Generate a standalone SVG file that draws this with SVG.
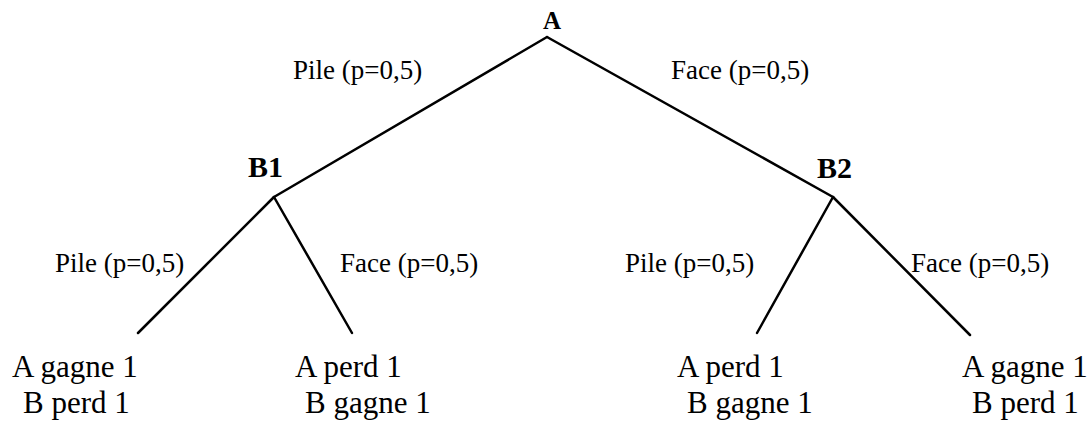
<svg xmlns="http://www.w3.org/2000/svg" width="1092" height="421" viewBox="0 0 1092 421">
<style>
text{font-family:"Liberation Serif","Times New Roman",serif;fill:#000}
.node{font-weight:bold}
.edge{font-size:27px}
.leaf{font-size:31px}
line{stroke:#000;stroke-width:2.5;stroke-linecap:round}
</style>
<rect width="1092" height="421" fill="#fff"/>
<g id="connectors">
<line x1="547" y1="37" x2="274" y2="197"/>
<line x1="547" y1="37" x2="833" y2="197"/>
<line x1="274" y1="197" x2="138" y2="333"/>
<line x1="274" y1="197" x2="352" y2="333"/>
<line x1="833" y1="197" x2="757" y2="333"/>
<line x1="833" y1="197" x2="970" y2="335"/>
</g>
<g id="edge-labels">
<text class="edge" x="293" y="79">Pile (p=0,5)</text>
<text class="edge" x="671" y="79">Face (p=0,5)</text>
<text class="edge" x="55" y="272">Pile (p=0,5)</text>
<text class="edge" x="340" y="272">Face (p=0,5)</text>
<text class="edge" x="625" y="272">Pile (p=0,5)</text>
<text class="edge" x="911" y="272">Face (p=0,5)</text>
</g>
<g id="node-A"><text class="node" x="552" y="29" font-size="25" text-anchor="middle">A</text></g>
<g id="node-B1"><text class="node" x="248" y="177" font-size="30">B1</text></g>
<g id="node-B2"><text class="node" x="817" y="178" font-size="30">B2</text></g>
<g id="leaf-1"><text class="leaf" x="12" y="377">A gagne 1</text><text class="leaf" x="23" y="413">B perd 1</text></g>
<g id="leaf-2"><text class="leaf" x="295" y="377">A perd 1</text><text class="leaf" x="305" y="413">B gagne 1</text></g>
<g id="leaf-3"><text class="leaf" x="677" y="377">A perd 1</text><text class="leaf" x="687" y="413">B gagne 1</text></g>
<g id="leaf-4"><text class="leaf" x="962" y="377">A gagne 1</text><text class="leaf" x="972" y="413">B perd 1</text></g>
</svg>
